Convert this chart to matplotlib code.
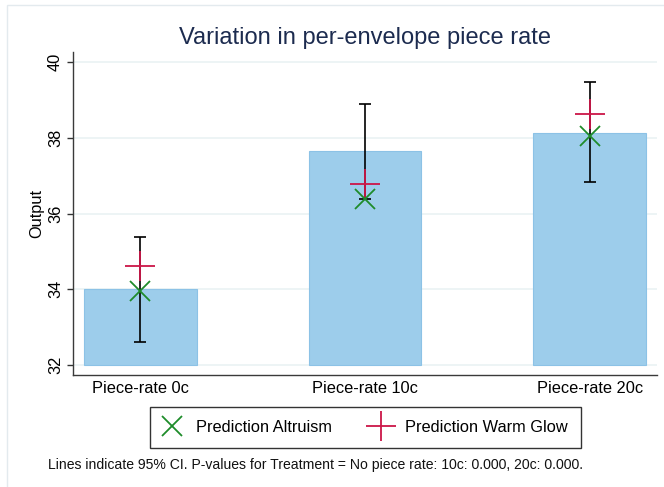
import matplotlib.pyplot as plt
from matplotlib.lines import Line2D
from matplotlib.patches import Rectangle

plt.rcParams['font.family'] = ['Liberation Sans', 'DejaVu Sans']

categories = ['Piece-rate 0c', 'Piece-rate 10c', 'Piece-rate 20c']
output_mean = [34.00, 37.64, 38.13]
ci_low = [32.62, 36.39, 36.82]
ci_high = [35.38, 38.90, 39.47]
pred_altruism = [33.95, 36.39, 38.05]
pred_warm_glow = [34.62, 36.79, 38.64]
y_ticks = [32, 34, 36, 38, 40]

title = 'Variation in per-envelope piece rate'
note = 'Lines indicate 95% CI. P-values for Treatment = No piece rate: 10c: 0.000, 20c: 0.000.'

bar_col = '#9dcdeb'
green = '#1e8c2a'
red = '#cc1648'
navy = '#1c2b4f'

fig = plt.figure(figsize=(6.64, 4.87), dpi=100)
ax = fig.add_axes([73 / 664, 1 - 375 / 487, 584 / 664, 323 / 487])

# faint outer frame like the Stata graph region
fig.patches.append(Rectangle((7 / 664, -0.1), 1.2, 1.1 - 5 / 487, transform=fig.transFigure,
                             fill=False, edgecolor='#e3eaee', linewidth=1.0, zorder=0))

x = list(range(len(categories)))
ax.bar(x, [m - 32 for m in output_mean], bottom=32, width=0.5,
       color=bar_col, edgecolor='#8cc2e6', linewidth=0.8, zorder=2)

yerr = [[m - lo for m, lo in zip(output_mean, ci_low)],
        [hi - m for m, hi in zip(output_mean, ci_high)]]
ax.errorbar(x, output_mean, yerr=yerr, fmt='none', ecolor='black',
            elinewidth=1.2, capsize=4, capthick=1.2, zorder=3)

ax.plot(x, pred_warm_glow, linestyle='none', marker='+', markersize=21,
        markeredgewidth=1.3, color=red, zorder=4)
ax.plot(x, pred_altruism, linestyle='none', marker='x', markersize=15,
        markeredgewidth=1.3, color=green, zorder=5)

ax.set_xlim(-0.3, 2.3)
ax.set_ylim(31.736, 40.264)
ax.set_yticks(y_ticks)
ax.set_yticklabels([str(t) for t in y_ticks], rotation=90, va='center', fontsize=11.8)
ax.set_xticks(x)
ax.set_xticklabels(categories, fontsize=11.8)
ax.tick_params(axis='x', length=0, pad=4)
ax.tick_params(axis='y', length=4.3, width=1, color='#333333', pad=3)
ax.grid(axis='y', color='#eaf2f3', linewidth=1.2, zorder=0)
ax.set_axisbelow(True)

for s in ['top', 'right']:
    ax.spines[s].set_visible(False)
for s in ['left', 'bottom']:
    ax.spines[s].set_color('#3a3a3a')
    ax.spines[s].set_linewidth(1.0)

fig.text(37 / 664, 1 - 214 / 487, 'Output', rotation=90, ha='center', va='center', fontsize=11.8)

fig.text(365 / 664, 1 - 38 / 487, title, ha='center', va='center', fontsize=17, color=navy)

handles = [Line2D([], [], linestyle='none', marker='x', markersize=15, markeredgewidth=1.3, color=green),
           Line2D([], [], linestyle='none', marker='+', markersize=21, markeredgewidth=1.3, color=red)]
leg = fig.legend(handles, ['Prediction Altruism', 'Prediction Warm Glow'], loc='center',
                 bbox_to_anchor=(365.5 / 664, 1 - 427.5 / 487), ncol=2, fontsize=11.8,
                 frameon=True, fancybox=False, edgecolor='#333333', framealpha=1,
                 handlelength=1.0, handletextpad=0.96, columnspacing=2.5, borderpad=0.8)
leg.get_frame().set_linewidth(1.0)

fig.text(48 / 664, 1 - 465 / 487, note, ha='left', va='center', fontsize=10.1, color='#111111')

fig.savefig('out.png', dpi=100)
